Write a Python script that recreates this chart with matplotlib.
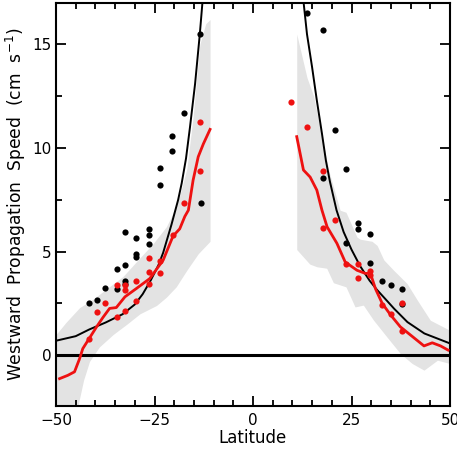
import matplotlib
matplotlib.use("Agg")
import matplotlib.pyplot as plt
from matplotlib.ticker import MultipleLocator
import numpy as np

plt.rcParams['font.family'] = ['DejaVu Sans']

# ---- gray envelope (left hemisphere) ----
band_l_lat = [-50, -47.4, -44, -40.6, -37.2, -33, -28.7, -25.3, -22, -20.3, -18.6, -16.8, -15.2, -13.5, -12, -10.9]
band_l_hi = [1.0, 1.6, 2.3, 2.7, 3.2, 3.8, 4.7, 5.4, 6.2, 6.85, 7.7, 9.0, 11.5, 15.0, 16.0, 16.2]
band_l_lat2 = [-50, -45, -44.5, -43, -41.5, -39, -35.5, -32, -28.7, -24.5, -22, -19.5, -16.8, -13.9, -10.9]
band_l_lo = [-3, -3, -2.5, -1.2, -0.3, 0.4, 1.0, 1.5, 2.0, 2.4, 2.8, 3.3, 4.1, 4.9, 5.5]

# ---- gray envelope (right hemisphere) ----
band_r_lat = [11.1, 13.7, 15.4, 17.5, 19.4, 22.1, 23.6, 26.4, 27.2, 30.2, 31.5, 33.2, 35.7, 39.1, 41.7, 45, 50]
band_r_hi = [15.5, 13.4, 12.5, 10.5, 8.8, 7.0, 6.9, 5.7, 5.6, 5.5, 5.3, 4.6, 4.1, 3.46, 2.66, 1.69, 1.2]
band_r_lat2 = [11.1, 14.4, 16.2, 18.7, 20.4, 23.6, 25.9, 28, 30.6, 34, 37.4, 40.4, 43.4, 46.8, 50]
band_r_lo = [5.1, 4.4, 4.27, 4.2, 3.5, 3.3, 2.33, 2.42, 1.69, 0.88, 0.08, -0.4, -0.72, -0.24, -0.4]

# ---- black theory curve ----
theory_l_lat = [-50, -45, -41.6, -37.4, -33.1, -30, -28, -26, -24, -22.8, -20.7, -19, -18.1, -17, -16, -14.7, -13.5, -12.8]
theory_l_val = [0.7, 0.92, 1.24, 1.58, 1.98, 2.45, 2.95, 3.6, 4.35, 4.95, 6.3, 7.5, 8.3, 9.5, 11.0, 13.1, 15.5, 17.1]
theory_r_lat = [12.8, 13.7, 15, 16.2, 17.5, 18.5, 19.5, 21.2, 23, 25, 27.2, 29.6, 31.5, 33.9, 35.8, 39.2, 43.5, 50]
theory_r_val = [17.1, 15.5, 13.9, 12.3, 10.7, 9.4, 8.4, 7.0, 5.95, 5.1, 4.3, 3.6, 3.15, 2.65, 2.25, 1.6, 1.05, 0.57]

# ---- red observed curve ----
obs_l_lat = [-49.1, -47, -45.3, -44, -43.2, -41.6, -39.7, -38.1, -36.4, -34.7, -32.5, -29.6, -26.2, -22.8, -20.3, -18.6, -17.3, -16.4, -15.2, -13.9, -12.6, -10.9]
obs_l_val = [-1.13, -0.97, -0.8, -0.16, 0.32, 0.8, 1.37, 1.82, 2.26, 2.3, 2.82, 3.22, 3.7, 4.59, 5.75, 6.1, 6.7, 7.0, 8.45, 9.58, 10.2, 10.9]
obs_r_lat = [11.1, 12.8, 14.5, 16.2, 17.5, 18.8, 21.3, 23.4, 26.4, 28.5, 29.8, 31.1, 32.8, 34.9, 37.4, 40.6, 43.4, 45.5, 47.6, 49.5]
obs_r_val = [10.55, 8.94, 8.6, 7.97, 7.0, 6.2, 5.4, 4.5, 4.1, 3.95, 3.95, 3.2, 2.5, 1.95, 1.37, 0.88, 0.45, 0.6, 0.45, 0.25]

# ---- black dots ----
black_lat = [-41.6, -39.5, -37.5, -34.6, -34.6, -32.5, -32.5, -32.5, -32.5, -29.6, -29.6, -29.6,
             -26.4, -26.4, -26.4, -23.5, -23.5, -20.5, -20.5, -17.5, -13.5, -13.3,
             13.7, 17.8, 20.7, 23.7, 17.8, 26.7, 26.7, 29.8, 23.7, 29.8, 32.8, 34.9, 37.9, 37.9]
black_val = [2.5, 2.66, 3.25, 4.14, 3.22, 5.93, 4.35, 3.57, 3.46, 5.64, 4.88, 4.75,
             6.1, 5.8, 5.35, 9.02, 8.22, 10.6, 9.87, 11.68, 15.5, 7.33,
             16.5, 15.7, 10.87, 8.97, 8.53, 6.4, 6.1, 5.87, 5.4, 4.43, 3.57, 3.38, 3.22, 2.46]

# ---- red dots ----
red_lat = [-41.6, -39.5, -37.5, -34.5, -34.5, -32.4, -32.4, -32.4, -29.6, -29.6,
           -26.4, -26.4, -26.4, -23.6, -23.6, -20.4, -17.5, -13.5, -13.5,
           9.6, 13.7, 17.8, 20.7, 17.8, 23.7, 26.7, 26.7, 29.8, 29.8, 32.8, 34.9, 37.9, 37.9]
red_val = [0.78, 2.09, 2.53, 3.38, 1.86, 3.38, 3.14, 2.15, 3.6, 2.64,
           4.68, 4.04, 3.46, 4.57, 3.95, 5.8, 7.33, 11.27, 8.89,
           12.2, 11.0, 8.9, 6.53, 6.14, 4.38, 4.38, 3.74, 4.06, 3.88, 2.42, 1.97, 2.5, 1.19]

x_ticks = [-50, -25, 0, 25, 50]
y_ticks = [0, 5, 10, 15]

fig = plt.figure(figsize=(4.57, 4.54), dpi=100)
ax = fig.add_axes([56/457, 1 - 406/454, (450 - 56)/457, (406 - 3)/454])

gray = '#e3e3e3'
xl = np.linspace(-50, -10.9, 400)
ax.fill_between(xl, np.interp(xl, band_l_lat2, band_l_lo), np.interp(xl, band_l_lat, band_l_hi),
                color=gray, lw=0, zorder=1)
xr = np.linspace(11.1, 50, 400)
ax.fill_between(xr, np.interp(xr, band_r_lat2, band_r_lo), np.interp(xr, band_r_lat, band_r_hi),
                color=gray, lw=0, zorder=1)

ax.axhline(0, color='black', lw=2.2, zorder=2)

ax.plot(theory_l_lat, theory_l_val, color='black', lw=1.4, zorder=3)
ax.plot(theory_r_lat, theory_r_val, color='black', lw=1.4, zorder=3)
ax.plot(obs_l_lat, obs_l_val, color='#ee1111', lw=2.0, zorder=4)
ax.plot(obs_r_lat, obs_r_val, color='#ee1111', lw=2.0, zorder=4)

ax.scatter(black_lat, black_val, s=20, color='black', lw=0, zorder=5)
ax.scatter(red_lat, red_val, s=20, color='#ee1111', lw=0, zorder=5)

ax.set_xlim(-50, 50)
ax.set_ylim(-2.45, 17)
ax.set_xticks(x_ticks)
ax.set_yticks(y_ticks)
ax.xaxis.set_minor_locator(MultipleLocator(5))
ax.yaxis.set_minor_locator(MultipleLocator(2.5))
ax.tick_params(which='both', direction='in', top=True, right=True, width=1.3, labelsize=11)
ax.tick_params(axis='y', pad=3)
ax.tick_params(axis='x', pad=5)
ax.tick_params(which='major', length=7)
ax.tick_params(which='minor', length=4)
for s in ax.spines.values():
    s.set_linewidth(1.5)

ax.set_xlabel('Latitude', fontsize=12, labelpad=1)
ax.set_ylabel('Westward  Propagation  Speed  (cm  s$^{-1}$)', fontsize=12.3, labelpad=3)

fig.savefig('out.png', dpi=100)
